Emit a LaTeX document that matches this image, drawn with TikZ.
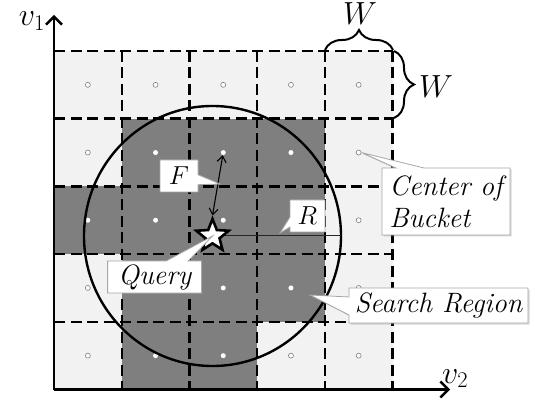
\RequirePackage{fix-cm}
\documentclass[tikz,border=0pt]{standalone}
\usetikzlibrary{shapes.geometric,shapes.callouts,decorations.pathreplacing,arrows.meta,shadows,calc}
\definecolor{lightcell}{HTML}{F2F2F2}
\definecolor{darkcell}{HTML}{7F7F7F}
\definecolor{callgray}{HTML}{A6A6A6}
\begin{document}
\begin{tikzpicture}[x=1pt,y=-1pt,
  gridline/.style={line width=2.4pt, dash pattern=on 11pt off 5.5pt},
  axisline/.style={line width=2.4pt,-{Straight Barb[length=8pt,width=16pt]}},
  lightdot/.style={circle,draw=darkcell,fill=white,line width=0.6pt,inner sep=0pt,minimum size=5pt},
  darkdot/.style={circle,fill=white,inner sep=0pt,minimum size=5pt},
  callbox/.style={rectangle callout,draw=callgray,line width=0.8pt,fill=white,inner sep=0pt,
    font=\fontsize{28}{32}\selectfont\itshape},
  mathbox/.style={callbox,font=\fontsize{26}{32}\selectfont},
  shadowed/.style={drop shadow={shadow xshift=1.5pt,shadow yshift=-1.5pt,opacity=0.3}},
  bracestyle/.style={decorate,decoration={brace,amplitude=20pt},line width=2pt},
  biglabel/.style={font=\fontsize{32}{36}\selectfont, inner sep=0pt},
  farrow/.style={line width=1.1pt,{Straight Barb[length=6pt,width=9pt]}-{Straight Barb[length=6pt,width=9pt]}}
]
\useasboundingbox (0,0) rectangle (535,403);
\def\cs{67.7}
% cell fills
\fill[lightcell] (54,51) rectangle (392.5,389.5);
\foreach \r/\c in {2/2,2/3,2/4,3/1,3/2,3/3,3/4,4/2,4/3,4/4,5/2,5/3}
  \fill[darkcell] ({54+(\c-1)*\cs},{51+(\r-1)*\cs}) rectangle ++(\cs,\cs);
% centre dots
\foreach \r/\c in {1/1,1/2,1/3,1/4,1/5,2/1,2/5,3/5,4/1,4/5,5/1,5/4,5/5}
  \node[lightdot] (d-\r-\c) at ({54+(\c-0.5)*\cs},{51+(\r-0.5)*\cs}) {};
\foreach \r/\c in {2/2,2/3,2/4,3/1,3/2,3/3,3/4,4/2,4/3,4/4,5/2,5/3}
  \node[darkdot] (d-\r-\c) at ({54+(\c-0.5)*\cs},{51+(\r-0.5)*\cs}) {};
% grid lines
\foreach \k in {1,...,5}
  \draw[gridline] ({54+\k*\cs},51) -- ({54+\k*\cs},389.5);
\foreach \k in {0,...,4}
  \draw[gridline] (54,{51+\k*\cs}) -- (392.5,{51+\k*\cs});
% axes
\coordinate (O) at (54,389.5);
\coordinate (v1tip) at (54,15);
\coordinate (v2tip) at (450,389.5);
\draw[axisline] (O) -- (v1tip);
\draw[axisline] (O) -- (v2tip);
\node[biglabel,anchor=base east] (v1) at (45,26) {$v_1$};
\node[biglabel,anchor=base west] (v2) at (442,383) {$v_2$};
% search circle
\coordinate (qc) at (212.5,236);
\coordinate (re) at (341,236);
\draw[line width=2.4pt] (qc) ellipse [x radius=128.5, y radius=130];
\draw[line width=1pt,black!85] (qc) -- (re);
% query star
\node[star,star points=5,star point ratio=2.3,minimum size=34pt,inner sep=0pt,draw,line width=2.6pt,fill=white] (q) at (qc) {};
\draw[farrow] (d-2-3) -- (q.north);
% callouts
\coordinate (fptr) at (220,184);
\coordinate (rptr) at (280,233);
\coordinate (sptr) at (310,295);
\node[mathbox,minimum width=38pt,minimum height=32pt,callout absolute pointer={(fptr)},callout pointer width=10pt] (fl) at (179,176) {$F$};
\node[mathbox,minimum width=35pt,minimum height=32pt,callout absolute pointer={(rptr)},callout pointer width=10pt] (rl) at (307.5,216) {$R$};
\node[callbox,minimum width=94pt,minimum height=32pt,callout absolute pointer={(q.center)},callout pointer width=22pt] (ql) at (154.6,277) {Query};
\node[callbox,shadowed,minimum width=128pt,minimum height=67pt,align=left,callout absolute pointer={(d-2-5.east)},callout pointer width=28pt] (cl) at (446,201.5) {Center of\\Bucket};
\node[callbox,shadowed,minimum width=179pt,minimum height=35pt,callout absolute pointer={(sptr)},callout pointer width=18pt] (sl) at (438.5,305.5) {Search Region};
% braces
\coordinate (b1a) at (325,50);
\coordinate (b1b) at (393,50);
\coordinate (b2a) at (394,51);
\coordinate (b2b) at (394,118);
\draw[bracestyle] (b1a) -- (b1b);
\draw[bracestyle] (b2a) -- (b2b);
\node[biglabel,anchor=base] (wt) at (360,25) {$W$};
\node[biglabel,anchor=base west] (wr) at (419,98) {$W$};
\end{tikzpicture}
\end{document}
